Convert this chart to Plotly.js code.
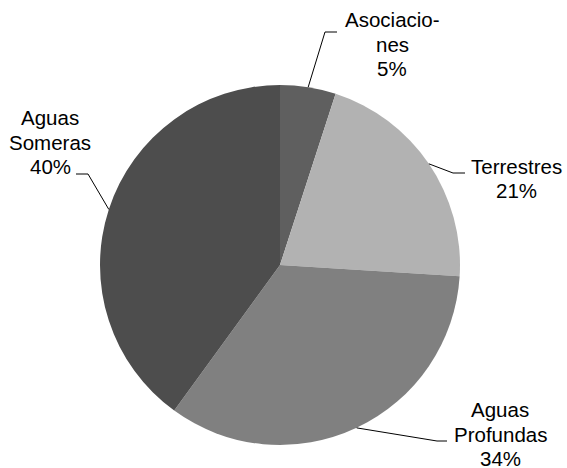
<!DOCTYPE html>
<html>
<head>
<meta charset="utf-8">
<script src="https://cdn.plot.ly/plotly-3.0.1.min.js"></script>
<style>html,body{margin:0;padding:0;background:#fff;}#chart{width:567px;height:468px;}</style>
</head>
<body>
<div id="chart"></div>
<script>
// Data
const categories = ["Asociaciones", "Terrestres", "Aguas Profundas", "Aguas Someras"];
const labelLines = [["Asociacio-", "nes"], ["Terrestres"], ["Aguas", "Profundas"], ["Aguas", "Someras"]];
const values = [5, 21, 34, 40];
const colors = ["#5f5f5f", "#b2b2b2", "#808080", "#4d4d4d"];

// Layout (pixels)
const W = 567, H = 468;
const CX = 280, CY = 265, R = 180;
const FS = 20.5, LS = 24.5;
const labelPos = [[392, 27], [516, 173.5], [500, 417], [50, 125]]; // center x, first baseline y
const elbows = [[325, 32, 337], [453, 173, 465], [437, 441, 447], [88, 174, 76]];

const px = x => x / W;
const py = y => 1 - y / H;

const total = values.reduce((a, b) => a + b, 0);
const shapes = [];
const annotations = [];
let cum = 0;
values.forEach((v, i) => {
  const mid = (cum + v / 2) / total;
  cum += v;
  const ang = mid * 2 * Math.PI;
  const ex = CX + R * Math.sin(ang), ey = CY - R * Math.cos(ang);
  const [bx, by, hx] = elbows[i];
  shapes.push({
    type: 'path', xref: 'paper', yref: 'paper',
    path: `M ${px(ex)} ${py(ey)} L ${px(bx)} ${py(by)} L ${px(hx)} ${py(by)}`,
    line: {color: '#000', width: 1}
  });
  const lines = labelLines[i].concat([Math.round(v / total * 100) + '%']);
  lines.forEach((t, j) => {
    const base = labelPos[i][1] + j * LS;
    annotations.push({
      xref: 'paper', yref: 'paper', x: px(labelPos[i][0]), y: py(base - 0.36 * FS),
      xanchor: 'center', yanchor: 'middle', showarrow: false, align: 'center',
      text: t,
      font: {family: 'Liberation Sans, Arial, sans-serif', size: FS, color: '#000'}
    });
  });
});

const trace = {
  type: 'pie', labels: categories, values: values, sort: false,
  direction: 'clockwise', rotation: 0, textinfo: 'none', hoverinfo: 'label+percent',
  marker: {colors: colors, line: {width: 0}},
  domain: {x: [px(CX - R), px(CX + R)], y: [py(CY + R), py(CY - R)]},
  showlegend: false
};

Plotly.newPlot('chart', [trace], {
  width: W, height: H, margin: {l: 0, r: 0, t: 0, b: 0},
  paper_bgcolor: '#fff', plot_bgcolor: '#fff',
  shapes: shapes, annotations: annotations, showlegend: false
}, {displayModeBar: false, staticPlot: true});
</script>
</body>
</html>
